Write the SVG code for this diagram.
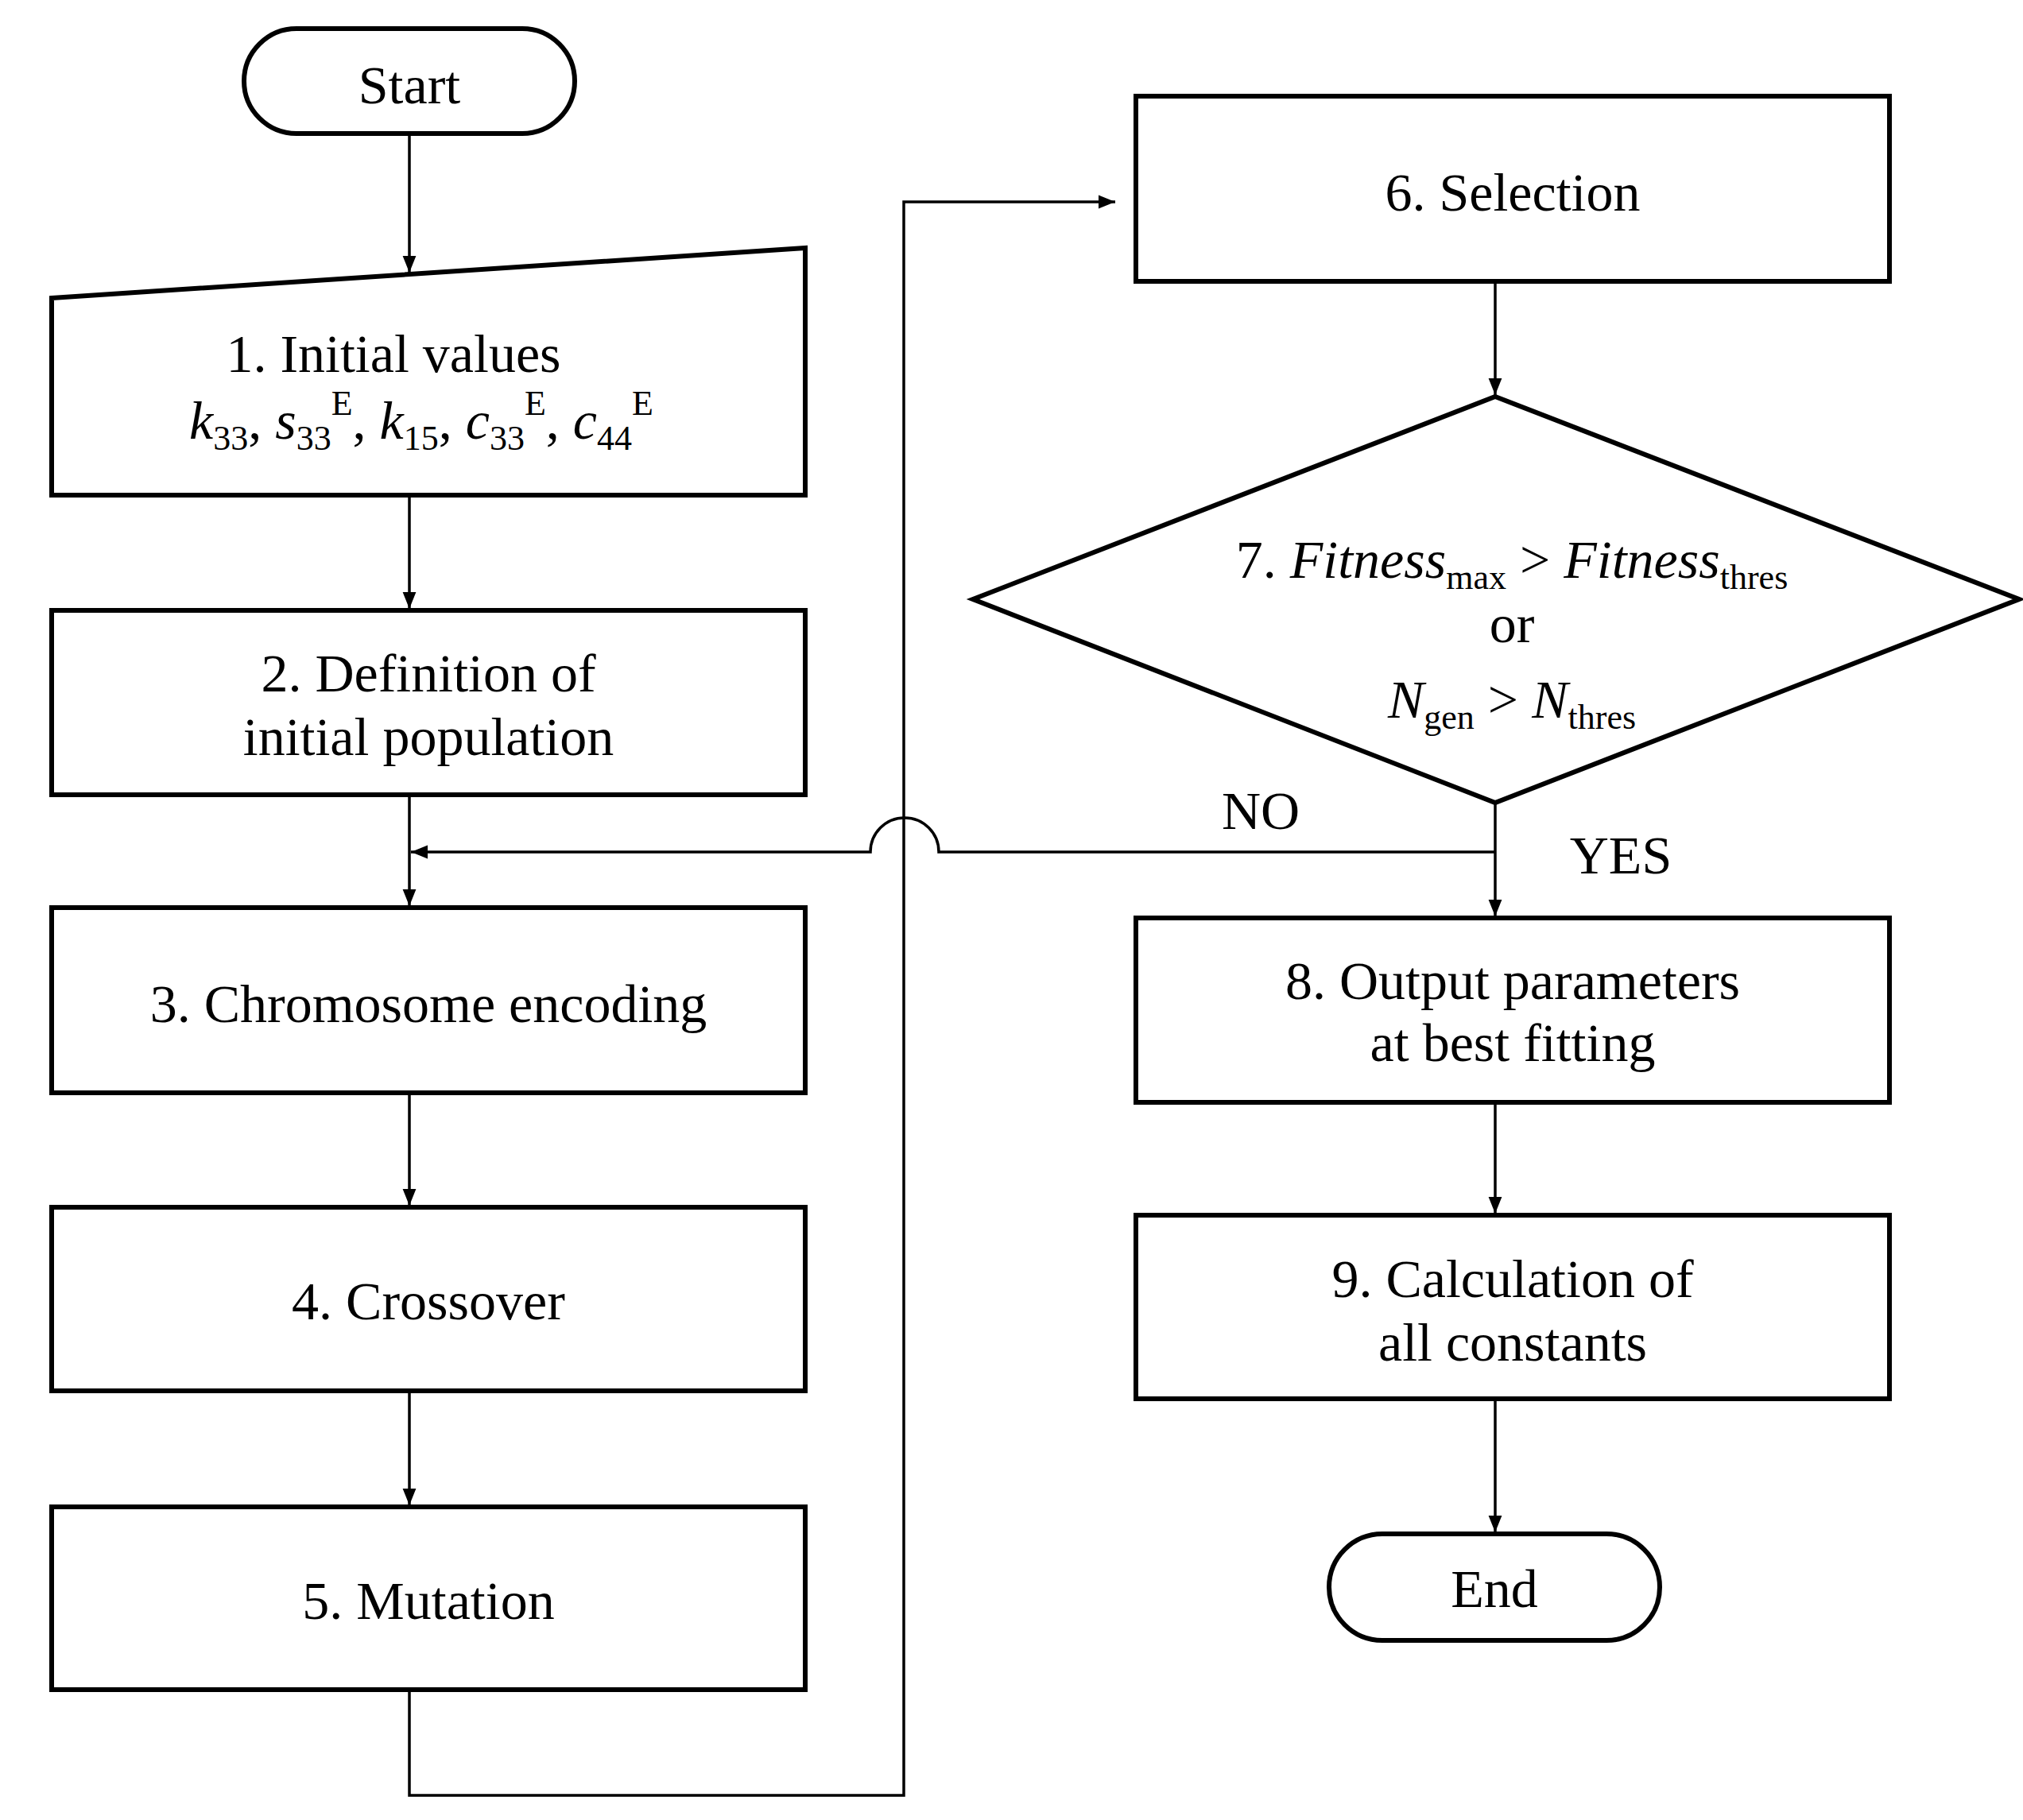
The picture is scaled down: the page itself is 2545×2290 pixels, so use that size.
<svg xmlns="http://www.w3.org/2000/svg" width="2545" height="2290" viewBox="0 0 2545 2290">
<style>
.n{fill:#fff;stroke:#000;stroke-width:6}
.c{fill:none;stroke:#000;stroke-width:3.5}
text{font-family:"Liberation Serif","DejaVu Serif",serif;font-size:68px;fill:#000;text-anchor:middle}
.i{font-style:italic}
.s{font-size:44px}
</style>
<defs>
<marker id="a" viewBox="0 0 10 10" refX="10" refY="5" markerWidth="6" markerHeight="6" orient="auto" markerUnits="strokeWidth"><path d="M0,1 L10,5 L0,9 Z" fill="#000"/></marker>
</defs>
<rect width="2545" height="2290" fill="#fff"/>
<g id="connectors">
<path class="c" d="M515,168 V343" marker-end="url(#a)"/>
<path class="c" d="M515,623 V766" marker-end="url(#a)"/>
<path class="c" d="M515,1000 V1140" marker-end="url(#a)"/>
<path class="c" d="M515,1375 V1517" marker-end="url(#a)"/>
<path class="c" d="M515,1750 V1894" marker-end="url(#a)"/>
<path class="c" d="M515,2126 V2259 H1137 V254 H1403" marker-end="url(#a)"/>
<path class="c" d="M1881,354 V497" marker-end="url(#a)"/>
<path class="c" d="M1881,1010 V1153" marker-end="url(#a)"/>
<path class="c" d="M1881,1072 H1181 A42,42 0 0 0 1095,1072 H517" marker-end="url(#a)"/>
<path class="c" d="M1881,1387 V1527" marker-end="url(#a)"/>
<path class="c" d="M1881,1760 V1928" marker-end="url(#a)"/>
<text x="1586" y="1043">NO</text>
<text x="2039" y="1099">YES</text>
</g>
<g id="start"><rect class="n" x="307" y="36" width="416" height="132" rx="66"/><text x="515" y="130">Start</text></g>
<g id="n1"><path class="n" d="M65,375 L1013,312 V623 H65 Z"/>
<text x="495" y="468">1. Initial values</text>
<text x="530" y="552"><tspan class="i">k</tspan><tspan class="s" dy="14">33</tspan><tspan dy="-14">, </tspan><tspan class="i">s</tspan><tspan class="s" dy="14">33</tspan><tspan class="s" dy="-44">E</tspan><tspan dy="30">, </tspan><tspan class="i">k</tspan><tspan class="s" dy="14">15</tspan><tspan dy="-14">, </tspan><tspan class="i">c</tspan><tspan class="s" dy="14">33</tspan><tspan class="s" dy="-44">E</tspan><tspan dy="30">, </tspan><tspan class="i">c</tspan><tspan class="s" dy="14">44</tspan><tspan class="s" dy="-44">E</tspan></text></g>
<g id="n2"><rect class="n" x="65" y="768" width="948" height="232"/><text x="539" y="870">2. Definition of</text><text x="539" y="950">initial population</text></g>
<g id="n3"><rect class="n" x="65" y="1142" width="948" height="233"/><text x="539" y="1286">3. Chromosome encoding</text></g>
<g id="n4"><rect class="n" x="65" y="1519" width="948" height="231"/><text x="539" y="1660">4. Crossover</text></g>
<g id="n5"><rect class="n" x="65" y="1896" width="948" height="230"/><text x="539" y="2037">5. Mutation</text></g>
<g id="n6"><rect class="n" x="1429" y="121" width="948" height="233"/><text x="1903" y="265">6. Selection</text></g>
<g id="n7"><path class="n" d="M1881,499 L2540,754 L1881,1010 L1224,754 Z"/>
<text x="1902" y="727">7. <tspan class="i">Fitness</tspan><tspan class="s" dy="14">max</tspan><tspan dy="-14"> &gt; </tspan><tspan class="i">Fitness</tspan><tspan class="s" dy="14">thres</tspan></text>
<text x="1902" y="808">or</text>
<text x="1902" y="903"><tspan class="i">N</tspan><tspan class="s" dy="14">gen</tspan><tspan dy="-14"> &gt; </tspan><tspan class="i">N</tspan><tspan class="s" dy="14">thres</tspan></text></g>
<g id="n8"><rect class="n" x="1429" y="1155" width="948" height="232"/><text x="1903" y="1257">8. Output parameters</text><text x="1903" y="1335">at best fitting</text></g>
<g id="n9"><rect class="n" x="1429" y="1529" width="948" height="231"/><text x="1903" y="1632">9. Calculation of</text><text x="1903" y="1712">all constants</text></g>
<g id="end"><rect class="n" x="1672" y="1930" width="416" height="134" rx="67"/><text x="1880" y="2022">End</text></g>
</svg>
